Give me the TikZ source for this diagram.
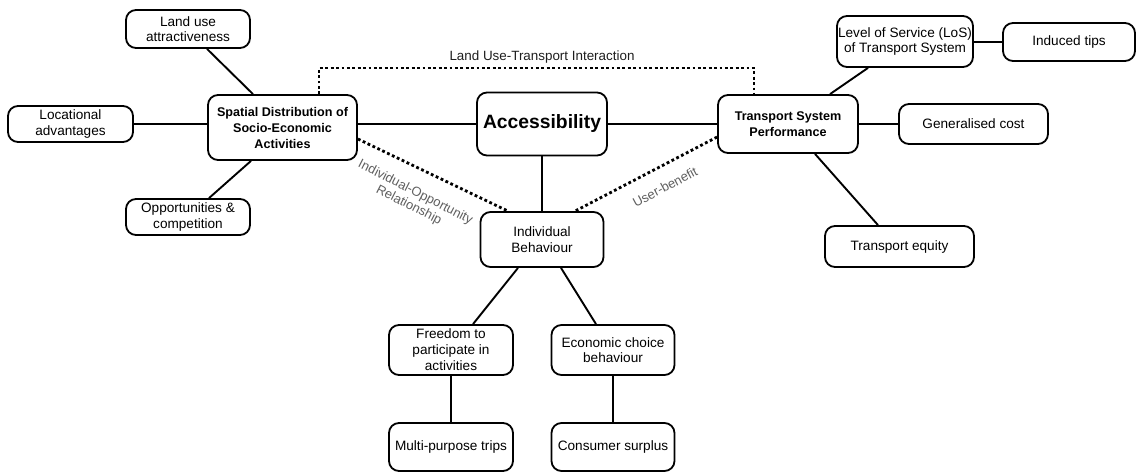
\documentclass[tikz,border=0pt]{standalone}
\usepackage{fontspec}
\setmainfont{Liberation Sans}
\begin{document}
\begin{tikzpicture}[x=1pt,y=-1pt,
  box/.style 2 args={draw, line width=1.8pt, rounded corners=10pt, fill=white,
    align=center, inner sep=0pt, minimum width=#1pt, minimum height=#2pt,
    font=\fontsize{13.6}{15.5}\selectfont},
  keybox/.style={font=\bfseries\fontsize{12.6}{16}\selectfont},
  conn/.style={line width=1.9pt},
  dots/.style={line width=2.8pt, dash pattern=on 2.8pt off 2.6pt},
  rel/.style={text={rgb,255:red,95;green,95;blue,95}, align=center,
    font=\fontsize{13}{14.5}\selectfont, inner sep=0pt}
]
\useasboundingbox (0,0) rectangle (1137,472);

% land-use side
\node[box={124}{38}] (lu) at (188,29) {Land use\\attractiveness};
\node[box={125}{36}] (la) at (70.5,124) {Locational\\advantages};
\node[box={149}{65}, keybox] (sd) at (282.5,127.5) {Spatial Distribution of\\Socio-Economic\\Activities};
\node[box={124}{36}] (op) at (188,217) {Opportunities \&\\competition};

% centre
\node[box={130}{63}, font=\bfseries\fontsize{19.3}{22}\selectfont] (acc) at (542,124) {Accessibility};
\node[box={123}{55}] (ib) at (542,239.5) {Individual\\Behaviour};

% transport side
\node[box={140}{58}, keybox] (tsp) at (788,124) {Transport System\\Performance};
\node[box={136}{51}] (los) at (905,41.5) {Level of Service (LoS)\\of Transport System};
\node[box={132}{38}] (it) at (1069,42) {Induced tips};
\node[box={149}{40}] (gc) at (973.5,124) {Generalised cost};
\node[box={149}{41}] (te) at (899.5,246.5) {Transport equity};

% behaviour branches
\node[box={124}{50}, font=\fontsize{13.6}{16}\selectfont] (fr) at (451,350) {Freedom to\\participate in\\activities};
\node[box={123}{50}] (ec) at (613,350) {Economic choice\\behaviour};
\node[box={124}{48}] (mp) at (451,447) {Multi-purpose trips};
\node[box={123}{48}] (cs) at (613,447) {Consumer surplus};

% solid links
\draw[conn] ([xshift=19pt]lu.south) -- ([xshift=-29.5pt]sd.north);
\draw[conn] (la.east) -- (la.east -| sd.west);
\draw[conn] ([xshift=21pt]op.north) -- ([xshift=-31.5pt]sd.south);
\draw[conn] (sd.east |- acc.west) -- (acc.west);
\draw[conn] (acc.east) -- (acc.east -| tsp.west);
\draw[conn] (acc.south) -- (acc.south |- ib.north);
\draw[conn] ([xshift=42pt]tsp.north) -- ([xshift=-37pt]los.south);
\draw[conn] (los.east |- it.west) -- (it.west);
\draw[conn] (tsp.east) -- (tsp.east -| gc.west);
\draw[conn] ([xshift=27pt]tsp.south) -- ([xshift=-21.5pt]te.north);
\draw[conn] ([xshift=-24pt]ib.south) -- ([xshift=22pt]fr.north);
\draw[conn] ([xshift=19pt]ib.south) -- ([xshift=-17pt]ec.north);
\draw[conn] (fr.south) -- (mp.north);
\draw[conn] (ec.south) -- (cs.north);

% dotted interaction links
\coordinate (luti) at (536.5,68);
\draw[dots] ([xshift=36.5pt]sd.north) |- (luti) -| ([xshift=-34pt]tsp.north);
\node[font=\fontsize{13.4}{15}\selectfont, text={rgb,255:red,30;green,30;blue,30}, inner sep=0pt] (lutilabel) at (542,57) {Land Use-Transport Interaction};
\draw[dots] ([yshift=-11.5pt]sd.east) -- ([xshift=-34pt]ib.north);
\draw[dots] ([yshift=-13pt]tsp.west) -- ([xshift=33pt]ib.north);
\node[rel, rotate=-27] (iorel) at (412,199) {Individual-Opportunity\\Relationship};
\node[rel, rotate=28] (ub) at (665,187) {User-benefit};
\end{tikzpicture}
\end{document}
